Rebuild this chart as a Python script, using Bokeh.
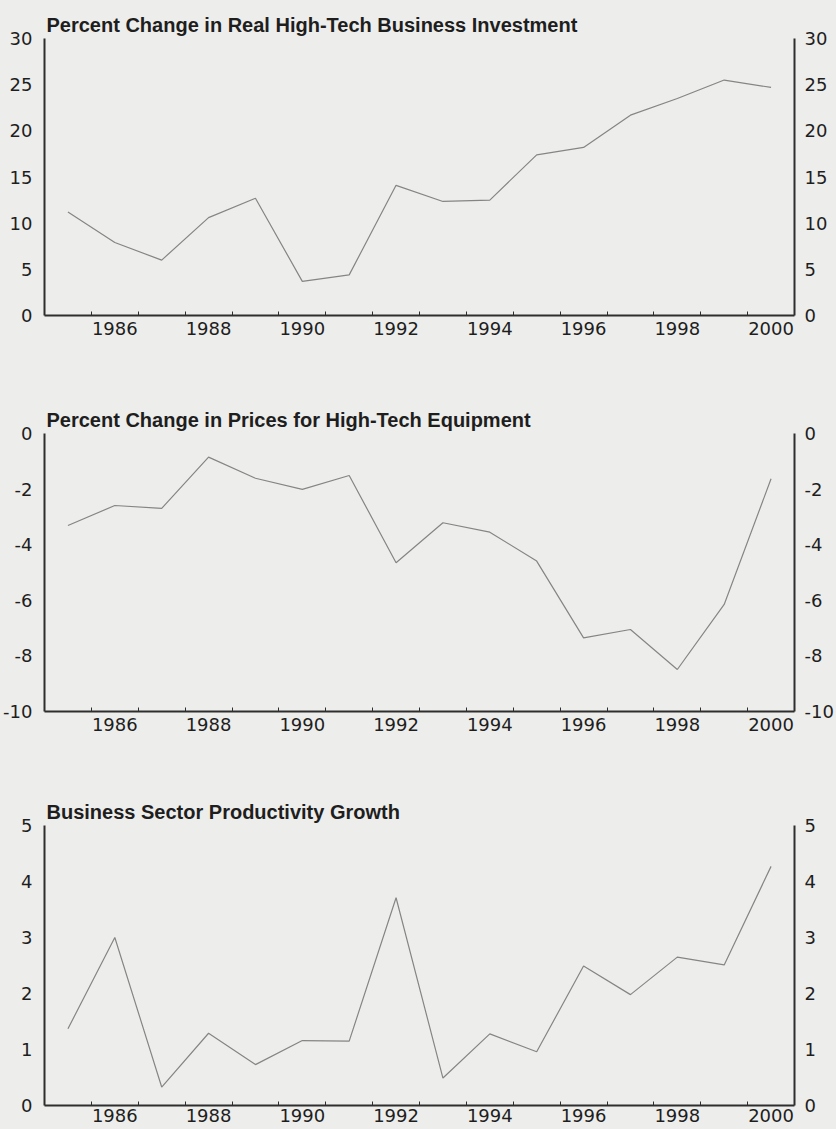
from bokeh.plotting import figure
from bokeh.models import Range1d, FixedTicker, LinearAxis
from bokeh.layouts import column
from bokeh.embed import file_html
from bokeh.resources import INLINE

years = list(range(1985, 2001))
invest = [11.2, 7.9, 6.0, 10.6, 12.7, 3.7, 4.4, 14.1, 12.35, 12.5, 17.4, 18.2, 21.7, 23.5, 25.5, 24.7]
prices = [-3.31, -2.59, -2.69, -0.85, -1.61, -2.01, -1.51, -4.65, -3.21, -3.55, -4.59, -7.35, -7.05, -8.49, -6.15, -1.63]
prod = [1.37, 3.0, 0.33, 1.29, 0.73, 1.16, 1.15, 3.71, 0.49, 1.28, 0.96, 2.49, 1.98, 2.65, 2.51, 4.27]

titles = ["Percent Change in Real High-Tech Business Investment",
          "Percent Change in Prices for High-Tech Equipment",
          "Business Sector Productivity Growth"]
year_labels = [1986, 1988, 1990, 1992, 1994, 1996, 1998, 2000]
year_bounds = [y + 0.5 for y in range(1985, 2000)]
yticks_invest = [0, 5, 10, 15, 20, 25, 30]
yticks_prices = [-10, -8, -6, -4, -2, 0]
yticks_prod = [0, 1, 2, 3, 4, 5]

BG = "#ededeb"
AX = "#2e2e2e"
TXT = "#1e1e1e"
LINE = "#858585"
TICK_FONT = "DejaVu Sans"


def style_y(axis, ticks, standoff):
    axis.ticker = FixedTicker(ticks=ticks)
    axis.major_label_overrides = {t: str(t) for t in ticks}
    axis.major_tick_line_color = None
    axis.major_tick_out = 0
    axis.major_tick_in = 0
    axis.minor_tick_line_color = None
    axis.minor_tick_out = 0
    axis.minor_tick_in = 0
    axis.axis_line_color = AX
    axis.axis_line_width = 2
    axis.major_label_text_font = TICK_FONT
    axis.major_label_text_font_size = "18px"
    axis.major_label_text_color = TXT
    axis.major_label_standoff = standoff


def panel(title, values, yr, yticks, top, fh, bottom, xstand):
    p = figure(frame_width=750, frame_height=fh,
               x_range=Range1d(1984.5, 2000.5), y_range=Range1d(*yr),
               output_backend="svg", toolbar_location=None,
               min_border_left=42, min_border_right=44,
               min_border_top=top, min_border_bottom=bottom)
    p.background_fill_color = BG
    p.border_fill_color = BG
    p.outline_line_color = None
    p.grid.visible = False

    p.title.text = title
    p.title.align = "left"
    p.title.text_font = "Liberation Sans"
    p.title.text_font_style = "bold"
    p.title.text_font_size = "20px"
    p.title.text_color = TXT
    p.title.offset = 2
    p.title.standoff = 5

    xa = p.xaxis[0]
    xa.ticker = FixedTicker(ticks=year_labels, minor_ticks=year_bounds)
    xa.major_tick_line_color = None
    xa.major_tick_out = 0
    xa.major_tick_in = 0
    xa.minor_tick_line_color = AX
    xa.minor_tick_in = 4
    xa.minor_tick_out = 0
    xa.minor_tick_line_width = 1
    xa.axis_line_color = AX
    xa.axis_line_width = 2
    xa.major_label_text_font = TICK_FONT
    xa.major_label_text_font_size = "18px"
    xa.major_label_text_color = TXT
    xa.major_label_standoff = xstand

    style_y(p.yaxis[0], yticks, 12)
    ra = LinearAxis()
    style_y(ra, yticks, 10)
    p.add_layout(ra, "right")

    p.line(years, values, line_color=LINE, line_width=1.2)
    return p


p1 = panel(titles[0], invest, (0, 30), yticks_invest, 38, 277, 50, 6)
p2 = panel(titles[1], prices, (-10, 0), yticks_prices, 68, 278, 50, 6)
p3 = panel(titles[2], prod, (0, 5), yticks_prod, 64, 280, 24, 3)

layout = column(p1, p2, p3, spacing=0)
layout.styles = {"background-color": BG}
open("out.html", "w").write(file_html(layout, INLINE))
